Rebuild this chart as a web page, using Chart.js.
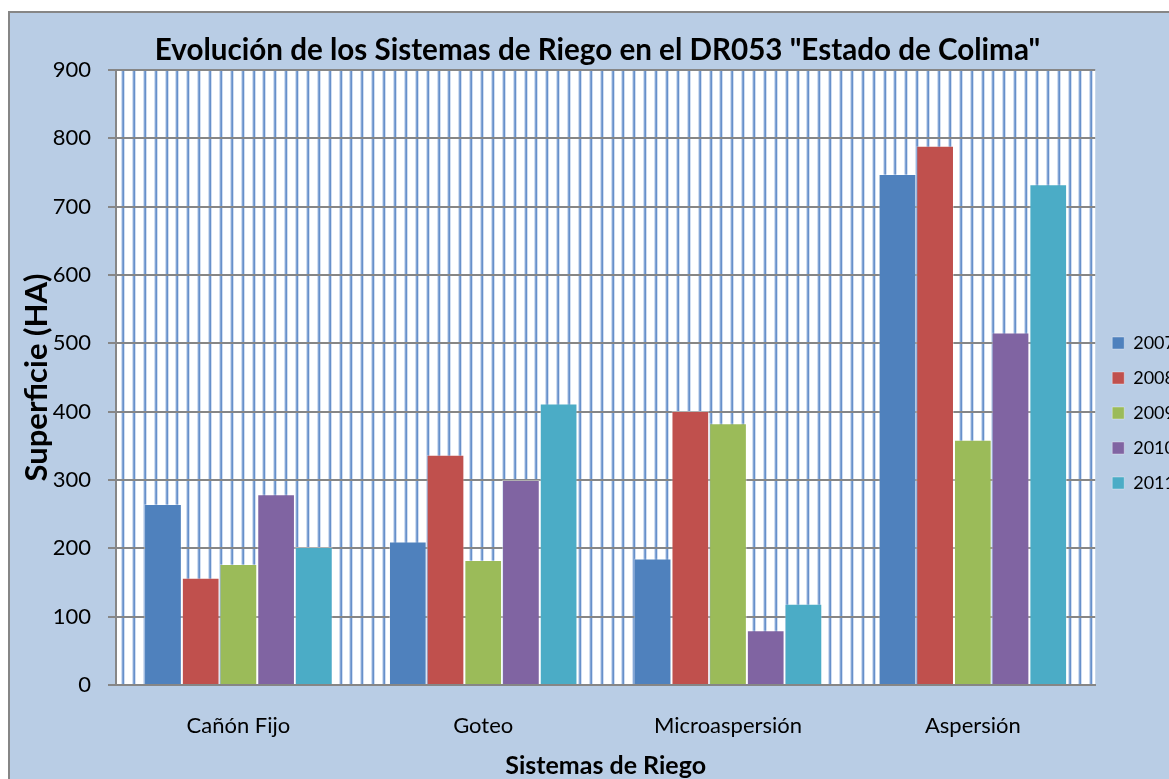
<!DOCTYPE html>
<html lang="es">
<head>
  <meta charset="UTF-8">
  <title>Evolución de los Sistemas de Riego</title>
  <script src="https://cdn.jsdelivr.net/npm/chart.js"></script>
  <style>
    html, body { margin: 0; padding: 0; background: #fff; overflow: hidden; }
    .chart-box {
      position: absolute;
      left: 8px;
      top: 11px;
      width: 1200px;
      height: 800px;
      background: #b9cde5;
      border-left: 2px solid #868686;
      border-top: 2px solid #868686;
    }
    canvas { display: block; }
  </style>
</head>
<body>
  <div class="chart-box">
    <canvas id="riegoChart" width="1178" height="800"></canvas>
  </div>

  <script>
    // data
    const categories = ['Cañón Fijo', 'Goteo', 'Microaspersión', 'Aspersión'];
    const years = ['2007', '2008', '2009', '2010', '2011'];
    const values2007 = [265, 210, 185, 748];
    const values2008 = [157, 337, 401, 789];
    const values2009 = [177, 183, 383, 359];
    const values2010 = [279, 300, 80, 516];
    const values2011 = [202, 412, 119, 733];
    const yTicks = [0, 100, 200, 300, 400, 500, 600, 700, 800, 900];

    const seriesValues = [values2007, values2008, values2009, values2010, values2011];
    const seriesColors = ['#4f81bd', '#c0504d', '#9bbb59', '#8064a2', '#4bacc6'];

    const GRAY = '#868686';
    Chart.defaults.font.family = 'Lato, "Open Sans", sans-serif';
    Chart.defaults.color = '#000';

    // white plot area with the vertical stripe pattern
    const stripedArea = {
      id: 'stripedArea',
      beforeDraw(chart) {
        const { ctx, chartArea: a } = chart;
        ctx.save();
        ctx.fillStyle = '#fff';
        ctx.fillRect(a.left, a.top, a.right - a.left, a.bottom - a.top);
        for (let x = a.left + 7; x < a.right - 1; x += 10.88) {
          ctx.fillStyle = '#a3bde3';
          ctx.fillRect(Math.round(x) - 1.5, a.top, 3, a.bottom - a.top);
          ctx.fillStyle = '#6790ca';
          ctx.fillRect(Math.round(x) - 0.5, a.top, 1.5, a.bottom - a.top);
        }
        ctx.restore();
      }
    };

    // y axis title sits over the tick labels, like the original
    const yTitle = {
      id: 'yTitle',
      afterDraw(chart) {
        const { ctx, chartArea: a } = chart;
        ctx.save();
        ctx.translate(27, (a.top + a.bottom) / 2);
        ctx.rotate(-Math.PI / 2);
        ctx.font = 'bold 31px Lato, "Open Sans", sans-serif';
        ctx.fillStyle = '#000';
        ctx.textAlign = 'center';
        ctx.textBaseline = 'middle';
        ctx.fillText('Superficie (HA)', 0, 0);
        ctx.restore();
      }
    };

    new Chart(document.querySelector('#riegoChart'), {
      type: 'bar',
      data: {
        labels: categories,
        datasets: years.map((year, i) => ({
          label: year,
          data: seriesValues[i],
          backgroundColor: seriesColors[i],
          borderColor: 'rgba(255,255,255,0.35)',
          borderWidth: 1,
          barPercentage: 1,
          categoryPercentage: 0.77,
        })),
      },
      options: {
        responsive: false,
        animation: false,
        devicePixelRatio: 1,
        layout: { padding: { left: 0, right: 3, top: 0, bottom: 0 } },
        plugins: {
          title: {
            display: true,
            text: 'Evolución de los Sistemas de Riego en el DR053 "Estado de Colima"',
            font: { size: 29.6, weight: 'bold' },
            color: '#000',
            padding: { top: 20, bottom: 1.5 },
          },
          legend: {
            position: 'right',
            align: 'center',
            labels: {
              boxWidth: 12,
              boxHeight: 12,
              padding: 17,
              font: { size: 18 },
              color: '#000',
            },
          },
          tooltip: { enabled: false },
        },
        scales: {
          x: {
            grid: { display: false, drawTicks: false },
            border: { color: GRAY, width: 2 },
            ticks: { font: { size: 22 }, color: '#000', padding: 28 },
            title: {
              display: true,
              text: 'Sistemas de Riego',
              font: { size: 25, weight: 'bold' },
              color: '#000',
              padding: { top: 0, bottom: 32 },
            },
            afterFit(scale) { scale.height = 128; },
          },
          y: {
            min: yTicks[0],
            max: yTicks[yTicks.length - 1],
            afterBuildTicks(scale) { scale.ticks = yTicks.map(v => ({ value: v })); },
            grid: { color: GRAY, lineWidth: 2, tickLength: 8 },
            border: { color: GRAY, width: 2 },
            ticks: { font: { size: 22 }, color: '#000', padding: 17 },
            afterFit(scale) { scale.width = 106; },
          },
        },
      },
      plugins: [stripedArea, yTitle],
    });
  </script>
</body>
</html>
